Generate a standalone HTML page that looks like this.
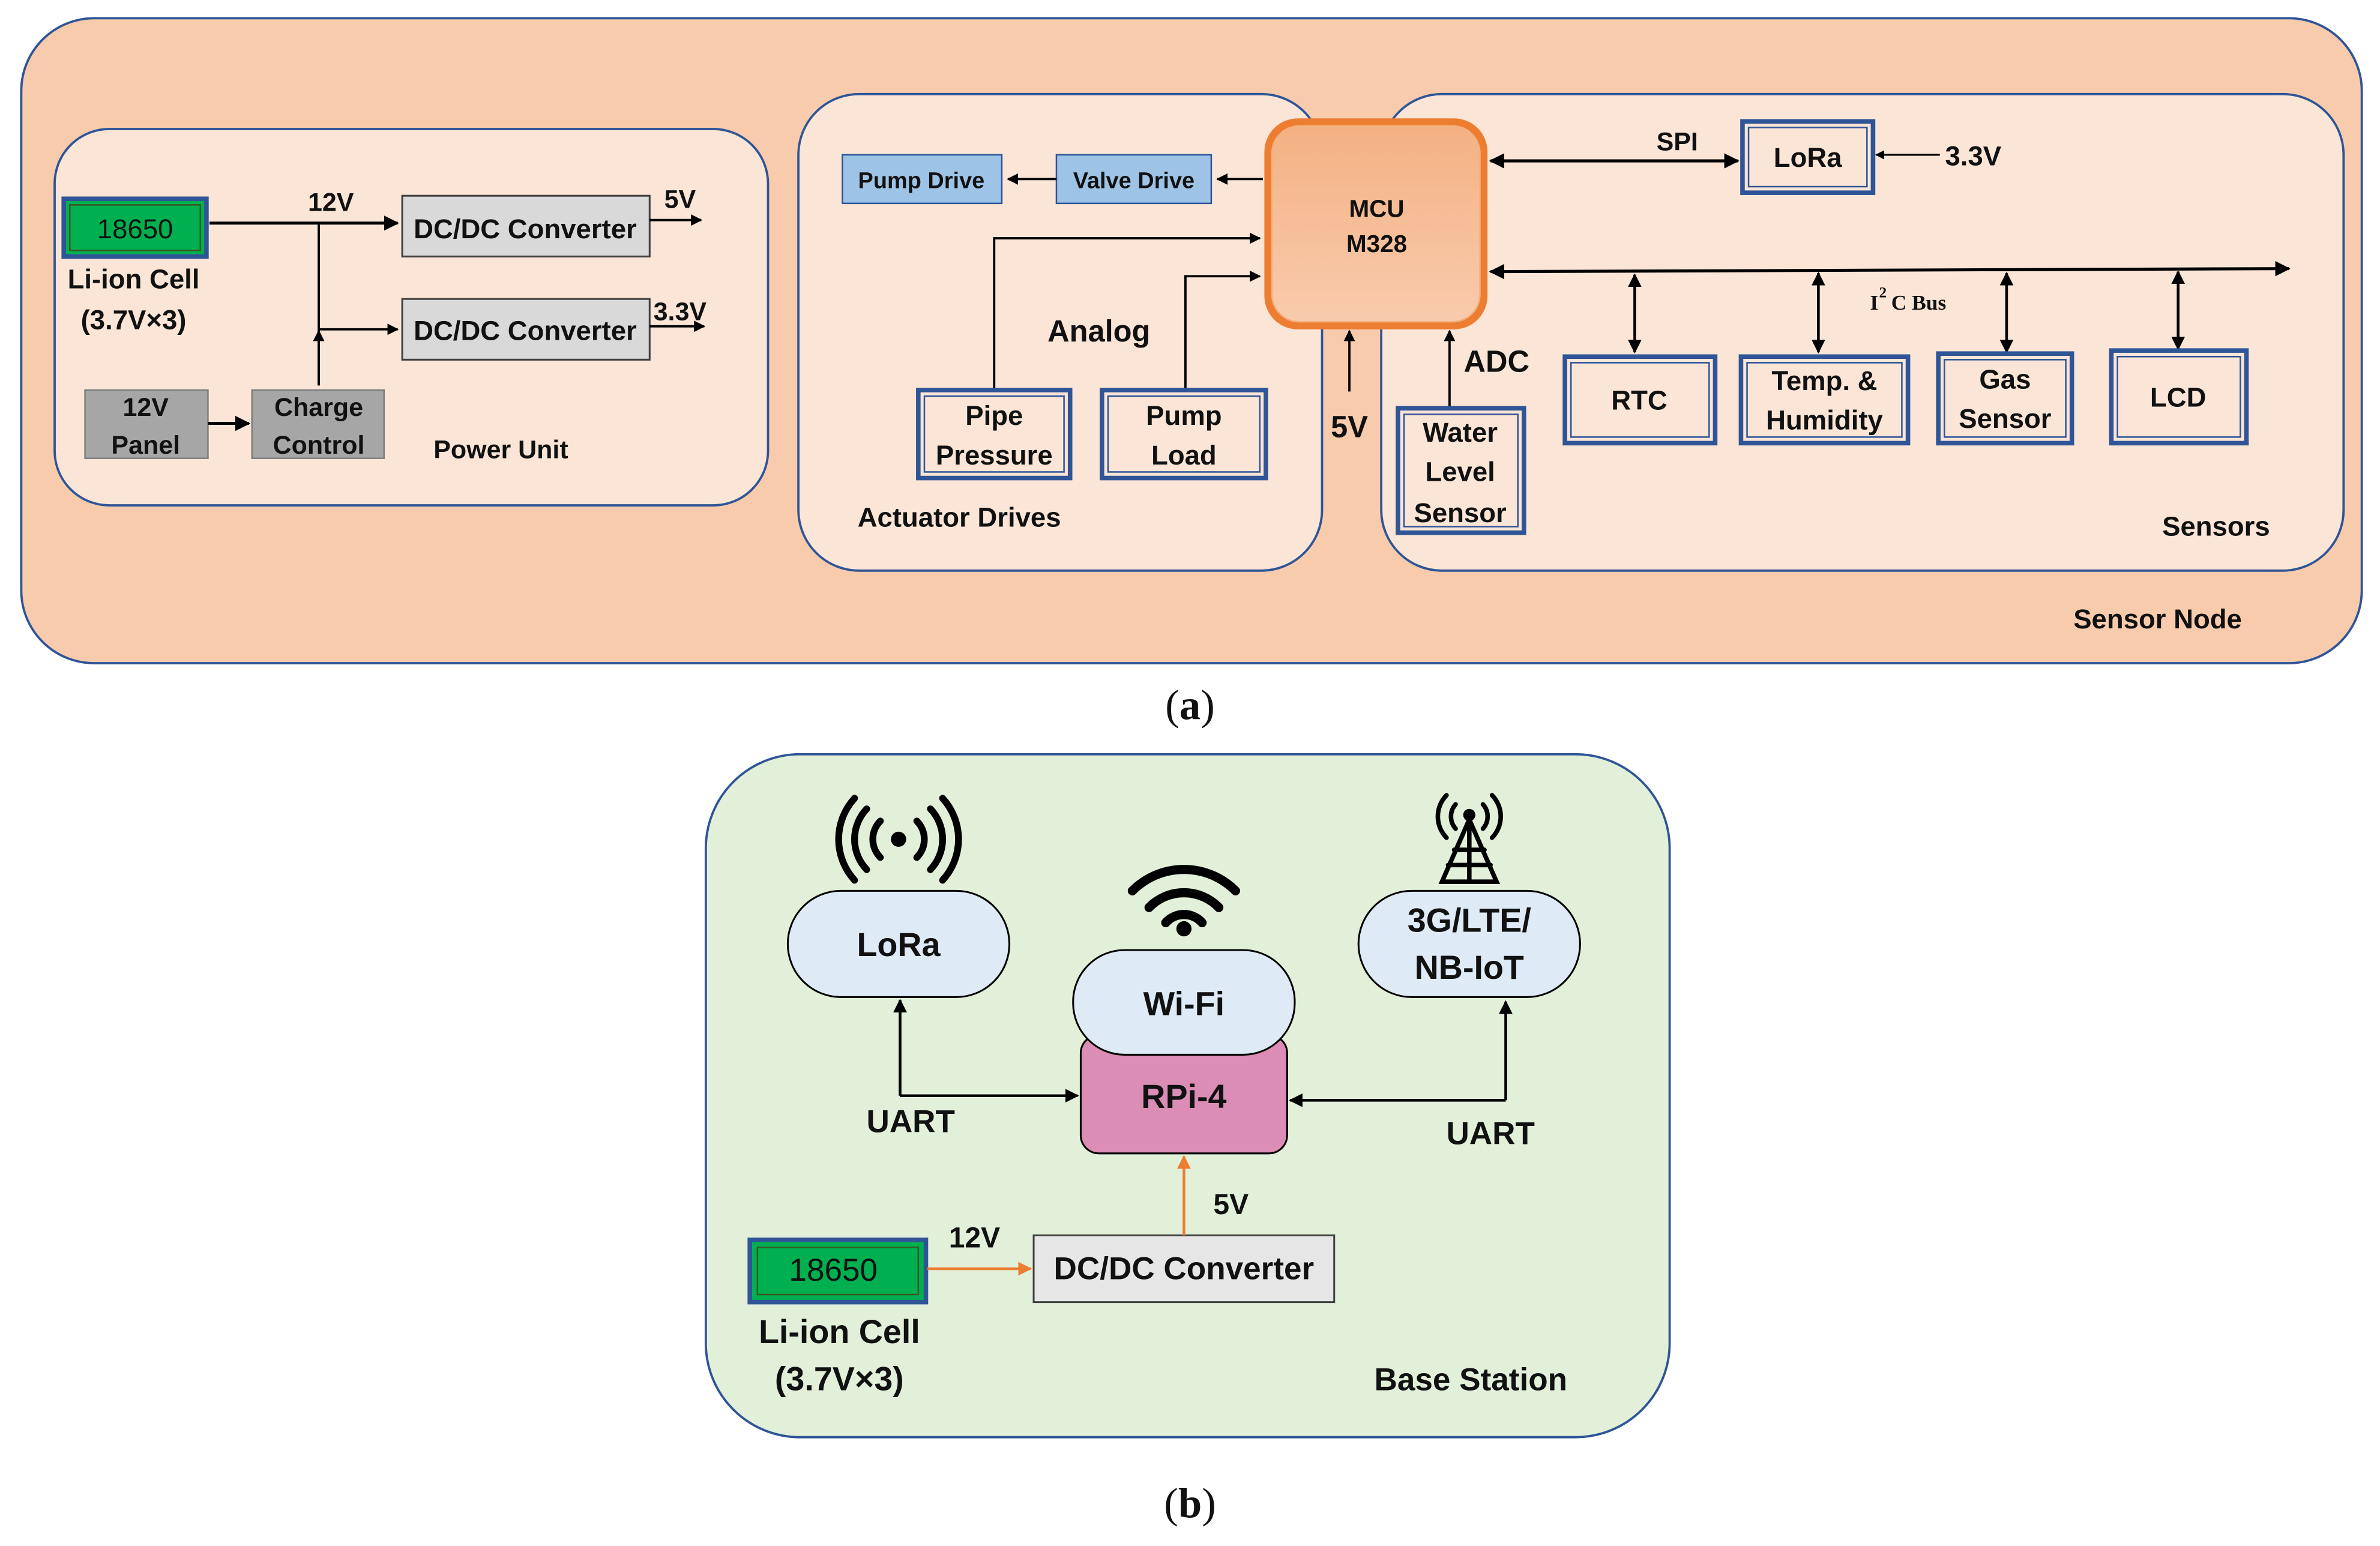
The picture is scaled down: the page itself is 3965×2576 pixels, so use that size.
<!DOCTYPE html>
<html><head><meta charset="utf-8"><style>
html,body{margin:0;padding:0;background:#fff;}
svg{display:block;}
text{font-family:"Liberation Sans",sans-serif;font-weight:bold;fill:#111;}
</style></head><body>
<svg width="3965" height="2576" viewBox="0 0 1568 1018.7" xmlns="http://www.w3.org/2000/svg">
<defs>
<marker id="a" viewBox="0 0 10 10" refX="9" refY="5" markerWidth="5" markerHeight="5" orient="auto-start-reverse"><path d="M0,0L10,5L0,10z" fill="#000"/></marker>
<marker id="o" viewBox="0 0 10 10" refX="9" refY="5" markerWidth="5" markerHeight="5" orient="auto-start-reverse"><path d="M0,0L10,5L0,10z" fill="#ED7D31"/></marker>
<linearGradient id="mg" x1="0" y1="0" x2="0" y2="1"><stop offset="0" stop-color="#F4B183"/><stop offset="1" stop-color="#F8CBAD"/></linearGradient>
</defs>
<rect width="1568" height="1018.7" fill="#fff"/>
<!-- Sensor node -->
<rect x="14" y="12" width="1542" height="425" rx="48" fill="#F8CBAD" stroke="#2F5597" stroke-width="1.5"/>
<rect x="36" y="85" width="470" height="248" rx="36" fill="#FBE5D6" stroke="#2F5597" stroke-width="1.5"/>
<rect x="526" y="62" width="345" height="314" rx="40" fill="#FBE5D6" stroke="#2F5597" stroke-width="1.5"/>
<rect x="910" y="62" width="634" height="314" rx="40" fill="#FBE5D6" stroke="#2F5597" stroke-width="1.5"/>
<text x="1366" y="414" font-size="18">Sensor Node</text>
<!-- power unit -->
<rect x="42" y="131" width="94" height="38" fill="#00B050" stroke="#2F5597" stroke-width="3"/>
<rect x="46" y="135" width="86" height="30" fill="#00B050" stroke="#385723" stroke-width="1"/>
<text x="89" y="157" font-size="18" text-anchor="middle" font-weight="normal" style="font-weight:normal">18650</text>
<text x="88" y="190" font-size="18" text-anchor="middle">Li-ion Cell</text>
<text x="88" y="217" font-size="18" text-anchor="middle">(3.7V×3)</text>
<line x1="138" y1="147" x2="262" y2="147" stroke="#000" stroke-width="2" marker-end="url(#a)"/>
<text x="218" y="139" font-size="17" text-anchor="middle">12V</text>
<line x1="210" y1="147" x2="210" y2="254" stroke="#000" stroke-width="1.5"/>
<line x1="210" y1="217" x2="262" y2="217" stroke="#000" stroke-width="1.5" marker-end="url(#a)"/>
<line x1="210" y1="254" x2="210" y2="218" stroke="#000" stroke-width="1.5" marker-end="url(#a)"/>
<rect x="265" y="129" width="163" height="40" fill="#D9D9D9" stroke="#404040" stroke-width="1.2"/>
<text x="346" y="157" font-size="18" text-anchor="middle">DC/DC Converter</text>
<rect x="265" y="197" width="163" height="40" fill="#D9D9D9" stroke="#404040" stroke-width="1.2"/>
<text x="346" y="224" font-size="18" text-anchor="middle">DC/DC Converter</text>
<line x1="428" y1="145" x2="462" y2="145" stroke="#000" stroke-width="1.5" marker-end="url(#a)"/>
<text x="448" y="137" font-size="17" text-anchor="middle">5V</text>
<line x1="428" y1="215" x2="464" y2="215" stroke="#000" stroke-width="1.5" marker-end="url(#a)"/>
<text x="448" y="211" font-size="17" text-anchor="middle">3.3V</text>
<rect x="56" y="257" width="81" height="45" fill="#A6A6A6" stroke="#7F7F7F"/>
<text x="96" y="274" font-size="17" text-anchor="middle">12V</text>
<text x="96" y="299" font-size="17" text-anchor="middle">Panel</text>
<line x1="137" y1="279" x2="164" y2="279" stroke="#000" stroke-width="2" marker-end="url(#a)"/>
<rect x="166" y="257" width="87" height="45" fill="#A6A6A6" stroke="#7F7F7F"/>
<text x="210" y="274" font-size="17" text-anchor="middle">Charge</text>
<text x="210" y="299" font-size="17" text-anchor="middle">Control</text>
<text x="330" y="302" font-size="17" text-anchor="middle">Power Unit</text>
<!-- actuators -->
<rect x="555" y="102" width="105" height="32" fill="#9DC3E6" stroke="#2F5597"/>
<text x="607" y="124" font-size="15" text-anchor="middle">Pump Drive</text>
<rect x="696" y="102" width="102" height="32" fill="#9DC3E6" stroke="#2F5597"/>
<text x="747" y="124" font-size="15" text-anchor="middle">Valve Drive</text>
<line x1="696" y1="118" x2="664" y2="118" stroke="#000" stroke-width="1.5" marker-end="url(#a)"/>
<line x1="832" y1="118" x2="802" y2="118" stroke="#000" stroke-width="1.5" marker-end="url(#a)"/>
<path d="M655,258 V157 H830" fill="none" stroke="#000" stroke-width="1.5" marker-end="url(#a)"/>
<path d="M781,258 V182 H830" fill="none" stroke="#000" stroke-width="1.5" marker-end="url(#a)"/>
<text x="724" y="225" font-size="20" text-anchor="middle">Analog</text>
<rect x="605" y="257" width="100" height="58" fill="#FBE5D6" stroke="#2F5597" stroke-width="3"/>
<rect x="609" y="261" width="92" height="50" fill="none" stroke="#2F5597" stroke-width="1"/>
<text x="655" y="280" font-size="18" text-anchor="middle">Pipe</text>
<text x="655" y="306" font-size="18" text-anchor="middle">Pressure</text>
<rect x="726" y="257" width="108" height="58" fill="#FBE5D6" stroke="#2F5597" stroke-width="3"/>
<rect x="730" y="261" width="100" height="50" fill="none" stroke="#2F5597" stroke-width="1"/>
<text x="780" y="280" font-size="18" text-anchor="middle">Pump</text>
<text x="780" y="306" font-size="18" text-anchor="middle">Load</text>
<text x="632" y="347" font-size="18" text-anchor="middle">Actuator Drives</text>
<!-- MCU -->
<rect x="833" y="78" width="147" height="139" rx="22" fill="#ED7D31"/>
<rect x="838" y="83" width="137" height="129" rx="18" fill="url(#mg)" stroke="#F4B183" stroke-width="1"/>
<text x="907" y="143" font-size="16" text-anchor="middle">MCU</text>
<text x="907" y="166" font-size="16" text-anchor="middle">M328</text>
<line x1="889" y1="258" x2="889" y2="218" stroke="#000" stroke-width="1.5" marker-end="url(#a)"/>
<text x="889" y="288" font-size="20" text-anchor="middle">5V</text>
<line x1="955" y1="268" x2="955" y2="218" stroke="#000" stroke-width="1.5" marker-end="url(#a)"/>
<text x="986" y="245" font-size="20" text-anchor="middle">ADC</text>
<rect x="921" y="269" width="83" height="82" fill="#FBE5D6" stroke="#2F5597" stroke-width="3"/>
<rect x="925" y="273" width="75" height="74" fill="none" stroke="#2F5597" stroke-width="1"/>
<text x="962" y="291" font-size="18" text-anchor="middle">Water</text>
<text x="962" y="317" font-size="18" text-anchor="middle">Level</text>
<text x="962" y="344" font-size="18" text-anchor="middle">Sensor</text>
<!-- SPI / LoRa -->
<line x1="982" y1="106" x2="1145" y2="106" stroke="#000" stroke-width="2" marker-start="url(#a)" marker-end="url(#a)"/>
<text x="1105" y="99" font-size="17" text-anchor="middle">SPI</text>
<rect x="1148" y="80" width="86" height="47" fill="#FBE5D6" stroke="#2F5597" stroke-width="3"/>
<rect x="1152" y="84" width="78" height="39" fill="none" stroke="#2F5597" stroke-width="1"/>
<text x="1191" y="110" font-size="18" text-anchor="middle">LoRa</text>
<line x1="1278" y1="102" x2="1236" y2="102" stroke="#000" stroke-width="1.2" marker-end="url(#a)"/>
<text x="1300" y="109" font-size="18" text-anchor="middle">3.3V</text>
<!-- I2C -->
<line x1="982" y1="179" x2="1508" y2="177" stroke="#000" stroke-width="2" marker-start="url(#a)" marker-end="url(#a)"/>
<text x="1232" y="204" font-size="14" style="font-family:'Liberation Serif',serif">I</text>
<text x="1238" y="196" font-size="10" style="font-family:'Liberation Serif',serif">2</text>
<text x="1246" y="204" font-size="14" style="font-family:'Liberation Serif',serif">C Bus</text>
<g stroke="#000" stroke-width="1.8">
<line x1="1077" y1="181" x2="1077" y2="232" marker-start="url(#a)" marker-end="url(#a)"/>
<line x1="1198" y1="180" x2="1198" y2="232" marker-start="url(#a)" marker-end="url(#a)"/>
<line x1="1322" y1="180" x2="1322" y2="232" marker-start="url(#a)" marker-end="url(#a)"/>
<line x1="1435" y1="179" x2="1435" y2="230" marker-start="url(#a)" marker-end="url(#a)"/>
</g>
<g fill="#FBE5D6" stroke="#2F5597" stroke-width="3">
<rect x="1031" y="235" width="99" height="57"/><rect x="1147" y="235" width="110" height="57"/>
<rect x="1277" y="233" width="88" height="59"/><rect x="1391" y="231" width="89" height="61"/>
</g>
<g fill="none" stroke="#2F5597" stroke-width="1">
<rect x="1035" y="239" width="91" height="49"/><rect x="1151" y="239" width="102" height="49"/>
<rect x="1281" y="237" width="80" height="51"/><rect x="1395" y="235" width="81" height="53"/>
</g>
<text x="1080" y="270" font-size="18" text-anchor="middle">RTC</text>
<text x="1202" y="257" font-size="18" text-anchor="middle">Temp. &amp;</text>
<text x="1202" y="283" font-size="18" text-anchor="middle">Humidity</text>
<text x="1321" y="256" font-size="18" text-anchor="middle">Gas</text>
<text x="1321" y="282" font-size="18" text-anchor="middle">Sensor</text>
<text x="1435" y="268" font-size="18" text-anchor="middle">LCD</text>
<text x="1460" y="353" font-size="18" text-anchor="middle">Sensors</text>
<text x="784" y="474" font-size="28" text-anchor="middle" style="font-family:'Liberation Serif',serif;font-weight:normal">(<tspan font-weight="bold">a</tspan>)</text>
<!-- Base station -->
<rect x="465" y="497" width="635" height="450" rx="62" fill="#E2F0D9" stroke="#2F5597" stroke-width="1.5"/>
<rect x="519" y="587" width="146" height="70" rx="35" fill="#DEEBF7" stroke="#000" stroke-width="1.2"/>
<text x="592" y="630" font-size="22" text-anchor="middle">LoRa</text>
<rect x="895" y="587" width="146" height="70" rx="35" fill="#DEEBF7" stroke="#000" stroke-width="1.2"/>
<text x="968" y="614" font-size="22" text-anchor="middle">3G/LTE/</text>
<text x="968" y="645" font-size="22" text-anchor="middle">NB-IoT</text>
<rect x="712" y="682" width="136" height="78" rx="12" fill="#DB8DB5" stroke="#000" stroke-width="1.2"/>
<rect x="707" y="626" width="146" height="69" rx="34" fill="#DEEBF7" stroke="#000" stroke-width="1.2"/>
<text x="780" y="669" font-size="22" text-anchor="middle">Wi-Fi</text>
<text x="780" y="730" font-size="22" text-anchor="middle">RPi-4</text>
<path d="M593,722 H710" fill="none" stroke="#000" stroke-width="1.8" marker-end="url(#a)"/>
<path d="M593,722 V659" fill="none" stroke="#000" stroke-width="1.8" marker-end="url(#a)"/>
<text x="600" y="746" font-size="21" text-anchor="middle">UART</text>
<path d="M992,725 H850" fill="none" stroke="#000" stroke-width="1.8" marker-end="url(#a)"/>
<path d="M992,725 V660" fill="none" stroke="#000" stroke-width="1.8" marker-end="url(#a)"/>
<text x="982" y="754" font-size="21" text-anchor="middle">UART</text>
<rect x="681" y="814" width="198" height="44" fill="#E7E6E6" stroke="#404040" stroke-width="1.2"/>
<text x="780" y="843" font-size="21" text-anchor="middle">DC/DC Converter</text>
<line x1="780" y1="814" x2="780" y2="762" stroke="#ED7D31" stroke-width="1.8" marker-end="url(#o)"/>
<text x="811" y="800" font-size="19" text-anchor="middle">5V</text>
<rect x="494" y="817" width="116" height="41" fill="#00B050" stroke="#2F5597" stroke-width="3"/>
<rect x="499" y="822" width="106" height="31" fill="#00B050" stroke="#385723" stroke-width="1"/>
<text x="549" y="844" font-size="21" text-anchor="middle" style="font-weight:normal">18650</text>
<line x1="611" y1="836" x2="679" y2="836" stroke="#ED7D31" stroke-width="1.8" marker-end="url(#o)"/>
<text x="642" y="822" font-size="19" text-anchor="middle">12V</text>
<text x="553" y="885" font-size="22" text-anchor="middle">Li-ion Cell</text>
<text x="553" y="916" font-size="22" text-anchor="middle">(3.7V×3)</text>
<text x="969" y="916" font-size="21" text-anchor="middle">Base Station</text>
<!-- icons -->
<g fill="none" stroke="#000" stroke-width="4.5" stroke-linecap="round">
<circle cx="592" cy="553" r="5" fill="#000" stroke="none"/>
<path d="M580,541 a17,17 0 0 0 0,24 M604,541 a17,17 0 0 1 0,24"/>
<path d="M571,533 a29,29 0 0 0 0,40 M613,533 a29,29 0 0 1 0,40"/>
<path d="M563,526 a40,40 0 0 0 0,54 M621,526 a40,40 0 0 1 0,54"/>
</g>
<g fill="none" stroke="#000" stroke-width="6" stroke-linecap="round">
<path d="M746,587 a48,48 0 0 1 68,0"/>
<path d="M757,598 a32,32 0 0 1 46,0"/>
<path d="M768,608 a16,16 0 0 1 24,0"/>
</g>
<circle cx="780" cy="612" r="5" fill="#000"/>
<g fill="none" stroke="#000" stroke-width="3" stroke-linecap="round">
<path d="M968,540 L950,581 H986 Z M968,540 V581 M958,560 H978 M954,570 L982,570"/>
<path d="M959,530 a12,12 0 0 0 0,16 M977,530 a12,12 0 0 1 0,16"/>
<path d="M953,524 a20,20 0 0 0 0,28 M983,524 a20,20 0 0 1 0,28"/>
</g>
<circle cx="968" cy="537" r="4" fill="#000"/>
<text x="784" y="1000" font-size="28" text-anchor="middle" style="font-family:'Liberation Serif',serif;font-weight:normal">(<tspan font-weight="bold">b</tspan>)</text>
</svg>
</body></html>
